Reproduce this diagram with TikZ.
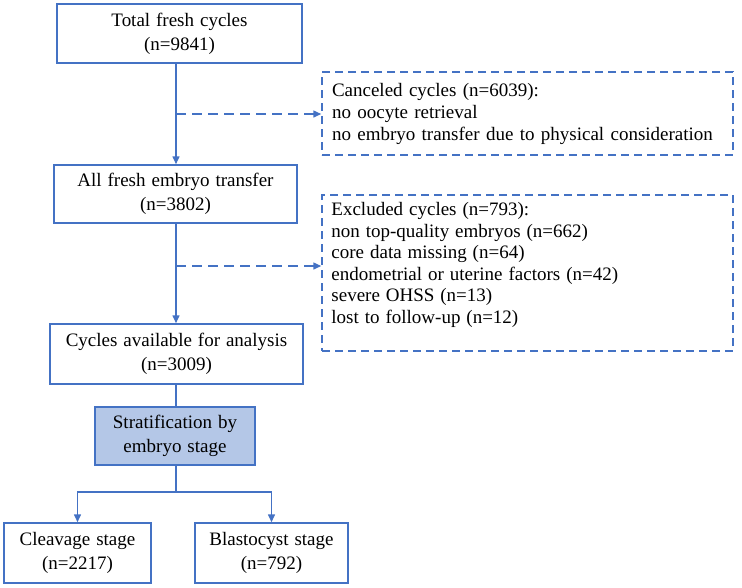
\documentclass[tikz,border=0pt]{standalone}
\usepackage{fontspec}
\setmainfont[WordSpace=1.25]{Liberation Serif}
\usetikzlibrary{arrows.meta}
\definecolor{flowblue}{HTML}{4472C4}
\definecolor{stagefill}{HTML}{B4C7E7}

\begin{document}
\begin{tikzpicture}[x=1pt, y=-1pt,
    box/.style={draw=flowblue, line width=1.5pt, fill=white, align=center, inner sep=2pt, font=\fontsize{19}{24}\selectfont},
    dashbox/.style={draw=flowblue, line width=1.5pt, dash pattern=on 8pt off 5pt, align=left, inner sep=10pt, font=\fontsize{19}{22}\selectfont},
    link/.style={flowblue, line width=1.5pt},
    arr/.style={link, -{Triangle[length=8pt,width=7pt]}},
    dasharr/.style={arr, dash pattern=on 10pt off 6pt}]
    \useasboundingbox (0,0) rectangle (742,587);

    % Define points
    \coordinate (c1) at (176,114); % branch to canceled cycles
    \coordinate (c2) at (176,266); % branch to excluded cycles
    \coordinate (split) at (176,492); % split into the two stages

    % Main boxes
    \node[box, minimum width=245, minimum height=59] (total) at (179.5,33.5) {Total fresh cycles\\(n=9841)};
    \node[box, minimum width=243, minimum height=58] (all) at (175.5,194) {All fresh embryo transfer\\(n=3802)};
    \node[box, minimum width=253, minimum height=60] (avail) at (176.5,354) {Cycles available for analysis\\(n=3009)};
    \node[box, fill=stagefill, minimum width=160, minimum height=58] (strat) at (175,436) {Stratification by\\embryo stage};
    \node[box, minimum width=147, minimum height=60] (cleav) at (77.5,553) {Cleavage stage\\(n=2217)};
    \node[box, minimum width=153, minimum height=60] (blast) at (271.5,553) {Blastocyst stage\\(n=792)};

    % Side boxes
    \node[dashbox, text width=391pt, minimum height=83] (cancel) at (527.5,113.5)
        {Canceled cycles (n=6039):\\no oocyte retrieval\\no embryo transfer due to physical consideration};
    \node[dashbox, minimum width=411, minimum height=156] (excl) at (527.5,273) {};
    \node[anchor=north west, align=left, inner sep=0pt, font=\fontsize{19}{21.5}\selectfont] (excltext)
        at ([xshift=10pt, yshift=-8pt]excl.north west)
        {Excluded cycles (n=793):\\non top-quality embryos (n=662)\\core data missing (n=64)\\endometrial or uterine factors (n=42)\\severe OHSS (n=13)\\lost to follow-up (n=12)};

    % Trunk
    \draw[arr] (total.south -| c1) -- (all.north -| c1);
    \draw[arr] (all.south -| c1) -- (avail.north -| c1);
    \draw[link] (avail.south -| c1) -- (strat.north -| c1);
    \draw[dasharr] (c1) -- (c1 -| cancel.west);
    \draw[dasharr] (c2) -- (c2 -| excl.west);

    % Split by stage
    \draw[link] (strat.south -| split) -- (split);
    \draw[arr] (split) -| (cleav.north);
    \draw[arr] (split) -| (blast.north);
\end{tikzpicture}
\end{document}
